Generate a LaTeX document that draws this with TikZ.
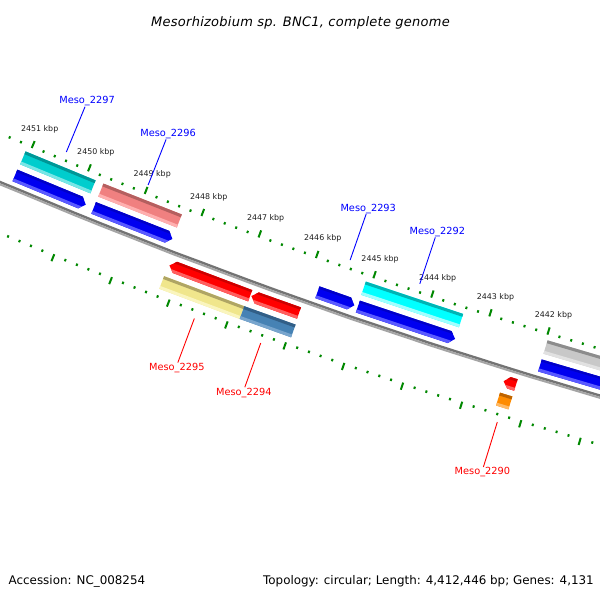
\documentclass[tikz,border=0pt]{standalone}
\usepackage{fontspec}
\setmainfont{DejaVu Sans}
\definecolor{tickgreen}{RGB}{0,136,0}
\definecolor{tickgray}{RGB}{30,30,30}
\definecolor{bbdark}{RGB}{115,115,115}
\definecolor{bblight}{RGB}{165,165,165}
\definecolor{bluemain}{RGB}{0,0,240}
\definecolor{bluetop}{RGB}{0,0,200}
\definecolor{bluebot}{RGB}{90,90,255}
\definecolor{tqmain}{RGB}{0,205,205}
\definecolor{tqtop}{RGB}{0,150,150}
\definecolor{tqbot}{RGB}{120,230,230}
\definecolor{pkmain}{RGB}{240,128,128}
\definecolor{pktop}{RGB}{180,95,95}
\definecolor{pkbot}{RGB}{255,175,175}
\definecolor{cymain}{RGB}{0,255,255}
\definecolor{cytop}{RGB}{0,180,180}
\definecolor{cybot}{RGB}{160,255,255}
\definecolor{grmain}{RGB}{200,200,200}
\definecolor{grtop}{RGB}{140,140,140}
\definecolor{grbot}{RGB}{225,225,225}
\definecolor{rdmain}{RGB}{255,0,0}
\definecolor{rdtop}{RGB}{205,0,0}
\definecolor{rdbot}{RGB}{255,95,95}
\definecolor{khmain}{RGB}{240,230,140}
\definecolor{khtop}{RGB}{175,165,100}
\definecolor{khbot}{RGB}{250,245,190}
\definecolor{sbmain}{RGB}{70,130,180}
\definecolor{sbtop}{RGB}{50,95,135}
\definecolor{sbbot}{RGB}{120,165,205}
\definecolor{ormain}{RGB}{255,140,0}
\definecolor{ortop}{RGB}{190,100,0}
\definecolor{orbot}{RGB}{255,185,100}
\def\dh{0.06}
% box: k1 k2 r1 r2 colorprefix
\newcommand{\gbox}[5]{%
  \fill[#5main] ({ang(#1)}:#3) -- ({ang(#2)}:#3) -- ({ang(#2)}:#4) -- ({ang(#1)}:#4) -- cycle;
  \fill[#5top] ({ang(#1)}:#3) -- ({ang(#2)}:#3) -- ({ang(#2)}:{#3+3}) -- ({ang(#1)}:{#3+3}) -- cycle;
  \fill[#5bot] ({ang(#1)}:{#4-3}) -- ({ang(#2)}:{#4-3}) -- ({ang(#2)}:#4) -- ({ang(#1)}:#4) -- cycle;
}
% arrow pointing to smaller k (tip at #1)
\newcommand{\arrR}[5]{%
  \fill[#5main] ({ang(#2)}:#3) -- ({ang(#1)+\dh}:#3) -- ({ang(#1)}:{(#3+#4)/2}) -- ({ang(#1)+\dh}:#4) -- ({ang(#2)}:#4) -- cycle;
  \begin{scope}
  \clip ({ang(#2)}:#3) -- ({ang(#1)+\dh}:#3) -- ({ang(#1)}:{(#3+#4)/2}) -- ({ang(#1)+\dh}:#4) -- ({ang(#2)}:#4) -- cycle;
  \fill[#5top] ({ang(#1)-0.1}:{#3-1}) -- ({ang(#2)+0.1}:{#3-1}) -- ({ang(#2)+0.1}:{#3+2.5}) -- ({ang(#1)-0.1}:{#3+2.5}) -- cycle;
  \fill[#5bot] ({ang(#1)-0.1}:{#4-3}) -- ({ang(#2)+0.1}:{#4-3}) -- ({ang(#2)+0.1}:{#4+1}) -- ({ang(#1)-0.1}:{#4+1}) -- cycle;
  \end{scope}
}
% arrow pointing to larger k (tip at #2)
\newcommand{\arrL}[5]{%
  \fill[#5main] ({ang(#1)}:#3) -- ({ang(#2)-\dh}:#3) -- ({ang(#2)}:{(#3+#4)/2}) -- ({ang(#2)-\dh}:#4) -- ({ang(#1)}:#4) -- cycle;
  \begin{scope}
  \clip ({ang(#1)}:#3) -- ({ang(#2)-\dh}:#3) -- ({ang(#2)}:{(#3+#4)/2}) -- ({ang(#2)-\dh}:#4) -- ({ang(#1)}:#4) -- cycle;
  \fill[#5top] ({ang(#1)-0.1}:{#3-1}) -- ({ang(#2)+0.1}:{#3-1}) -- ({ang(#2)+0.1}:{#3+2.5}) -- ({ang(#1)-0.1}:{#3+2.5}) -- cycle;
  \fill[#5bot] ({ang(#1)-0.1}:{#4-3}) -- ({ang(#2)+0.1}:{#4-3}) -- ({ang(#2)+0.1}:{#4+1}) -- ({ang(#1)-0.1}:{#4+1}) -- cycle;
  \end{scope}
}
\begin{document}
\begin{tikzpicture}[x=1pt,y=-1pt,
  declare function={ang(\kk)=106.97+(\kk-2442)*0.6467;},
  tickmaj/.style={draw=tickgreen,line width=2pt},
  tickmin/.style={draw=tickgreen,line width=2pt},
  ticklab/.style={font=\fontsize{7.9}{9}\selectfont,text=tickgray,inner sep=0pt},
  labin/.style={font=\fontsize{9.8}{11}\selectfont,text=blue,inner sep=0.3pt,anchor=south,xshift=2pt},
  labout/.style={font=\fontsize{9.8}{11}\selectfont,text=red,inner sep=0.5pt,anchor=north,xshift=-1pt},
  linein/.style={draw=blue,line width=0.9pt},
  lineout/.style={draw=red,line width=0.9pt},
  infotext/.style={font=\fontsize{11.9}{13}\selectfont,inner sep=0pt}]
\useasboundingbox (0,0) rectangle (600,600);
\fill[white] (0,0) rectangle (600,600);
\begin{scope}
\clip (0,0) rectangle (600,600);
\begin{scope}[shift={(2123.9,-4831.6)}]
  % backbone
  \draw[line width=2.4pt,bbdark] plot[domain=105.6:113.8,samples=30,variable=\a] (\a:5445);
  \draw[line width=2pt,bblight] plot[domain=105.6:113.8,samples=30,variable=\a] (\a:5447.2);
  % ticks
  \foreach \i in {0,...,60} {
    \pgfmathsetmacro\kp{2452-0.2*\i}
    \pgfmathtruncatemacro\ismaj{mod(\i,5)==0}
    \ifnum\ismaj=1
      \draw[tickmaj] ({ang(\kp)}:5401.5) -- ({ang(\kp)}:5394);
      \draw[tickmaj] ({ang(\kp)}:5491) -- ({ang(\kp)}:5498.5);
    \else
      \draw[tickmin] ({ang(\kp)}:5399) -- ({ang(\kp)}:5401.5);
      \draw[tickmin] ({ang(\kp)}:5491) -- ({ang(\kp)}:5493.5);
    \fi
  }
  \foreach \k in {2442,...,2451} {
    \node[ticklab] (tl\k) at ({ang(\k)}:5381) {\k\ kbp};
  }
  % inner genes
  \gbox{2449.83}{2451.07}{5407}{5421}{tq}
  \gbox{2448.31}{2449.69}{5407}{5421}{pk}
  \gbox{2443.42}{2445.10}{5407}{5421}{cy}
  \gbox{2440.3}{2441.97}{5407}{5421}{gr}
  % inner CDS arrows
  \arrR{2449.83}{2451.08}{5427}{5439.5}{blue}
  \arrR{2448.31}{2449.69}{5427}{5439.5}{blue}
  \arrR{2445.15}{2445.79}{5427}{5439.5}{blue}
  \arrR{2443.42}{2445.09}{5427}{5439.5}{blue}
  \arrR{2440.2}{2441.97}{5427}{5439.5}{blue}
  % outer CDS arrows
  \arrL{2446.80}{2448.20}{5453}{5465}{rd}
  \arrL{2445.96}{2446.78}{5453}{5465}{rd}
  \arrL{2442.25}{2442.46}{5453}{5465}{rd}
  % outer genes
  \gbox{2446.83}{2448.22}{5471}{5484.5}{kh}
  \gbox{2445.95}{2446.83}{5471}{5484.5}{sb}
  \gbox{2442.25}{2442.46}{5471}{5484.5}{or}
  % labels
  \coordinate (a2297) at ({ang(2450.45)}:5392);
  \coordinate (b2297) at ({ang(2450.45)}:5343);
  \coordinate (a2296) at ({ang(2449.0)}:5392);
  \coordinate (b2296) at ({ang(2449.0)}:5343);
  \coordinate (a2293) at ({ang(2445.46)}:5392);
  \coordinate (b2293) at ({ang(2445.46)}:5343);
  \coordinate (a2292) at ({ang(2444.25)}:5392);
  \coordinate (b2292) at ({ang(2444.25)}:5343);
  \coordinate (a2295) at ({ang(2447.52)}:5500);
  \coordinate (b2295) at ({ang(2447.52)}:5547);
  \coordinate (a2294) at ({ang(2446.38)}:5500);
  \coordinate (b2294) at ({ang(2446.38)}:5547);
  \coordinate (a2290) at ({ang(2442.36)}:5500);
  \coordinate (b2290) at ({ang(2442.36)}:5547);
  \foreach \g in {2297,2296,2293,2292} {
    \node[labin] (n\g) at (b\g) {Meso\_\g};
    \draw[linein] (a\g) -- (b\g);
  }
  \foreach \g in {2295,2294,2290} {
    \node[labout] (n\g) at (b\g) {Meso\_\g};
    \draw[lineout] (a\g) -- (b\g);
  }
\end{scope}
\end{scope}
\node[font=\fontsize{13}{15}\selectfont\itshape,inner sep=0pt,anchor=base] (title) at (300.5,26) {\addfontfeatures{LetterSpace=2}Mesorhizobium sp. BNC1, complete genome};
\node[infotext,anchor=base west] (acc) at (8.5,584) {Accession: NC\_008254};
\node[infotext,anchor=base east] (topo) at (594,584) {Topology: circular; Length: 4,412,446 bp; Genes: 4,131};
\end{tikzpicture}
\end{document}
